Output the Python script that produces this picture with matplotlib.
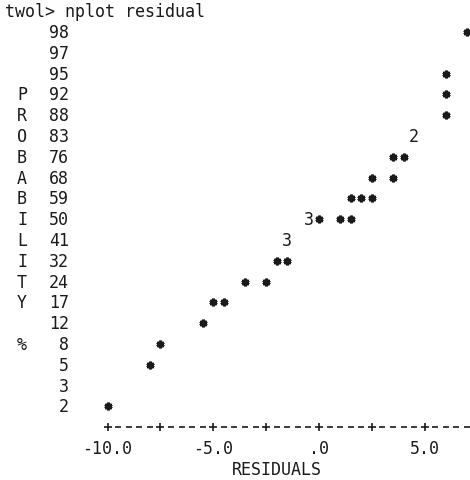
import numpy as np
import matplotlib
matplotlib.use("Agg")
import matplotlib.pyplot as plt

# ---- data -------------------------------------------------------------
title = "twol> nplot residual"
prob_labels = [98, 97, 95, 92, 88, 83, 76, 68, 59, 50, 41, 32, 24, 17, 12, 8, 5, 3, 2]
side_letters = {92: "P", 88: "R", 83: "O", 76: "B", 68: "A", 59: "B", 50: "I",
                41: "L", 32: "I", 24: "T", 17: "Y", 8: "%"}

# single observations ('*')
star_res = [7.0, 6.0, 6.0, 6.0, 3.5, 4.0, 2.5, 3.5, 1.5, 2.0, 2.5, 0.0, 1.0, 1.5,
            -2.0, -1.5, -3.5, -2.5, -5.0, -4.5, -5.5, -7.5, -8.0, -10.0]
star_prob = [98, 95, 92, 88, 76, 76, 68, 68, 59, 59, 59, 50, 50, 50,
             32, 32, 24, 24, 17, 17, 12, 8, 5, 2]
# coincident observations (count shown as digit)
multi_res = [4.5, -0.5, -1.5]
multi_prob = [83, 50, 41]
multi_count = ["2", "3", "3"]

tick_vals = [-10.0, -5.0, 0.0, 5.0]
tick_text = ["-10.0", "-5.0", ".0", "5.0"]
minor_ticks = [-10.0, -7.5, -5.0, -2.5, 0.0, 2.5, 5.0]
xlabel = "RESIDUALS"

# ---- layout -----------------------------------------------------------
W, H = 470, 480
PXU = 21.14      # pixels per residual unit
X0 = 319.0       # pixel of residual 0
Y0, DY = 32.0, 20.8  # pixel of first row, row spacing

fig = plt.figure(figsize=(W / 100, H / 100), dpi=100)
ax = fig.add_axes([0, 0, 1, 1])
ax.axis("off")
ax.set_xlim(-X0 / PXU, (W - X0) / PXU)
ax.set_ylim((H - Y0) / DY, -Y0 / DY)

row_of = {p: i for i, p in enumerate(prob_labels)}
INK = "#1a1a1a"
FONT = dict(family="DejaVu Sans Mono", fontsize=12.0, color=INK)
BL = 0.29  # baseline offset (rows) so glyphs are centred on the row

def px2x(px):
    return (px - X0) / PXU

# title
ax.text(px2x(5), -1 + BL, title, ha="left", va="baseline", **FONT)

# probability labels and vertical letters
for p in prob_labels:
    r = row_of[p]
    ax.text(px2x(69), r + BL, str(p), ha="right", va="baseline", **FONT)
    if p in side_letters:
        ax.text(px2x(22), r + BL, side_letters[p], ha="center", va="baseline", **FONT)

# points
ax.plot(star_res, [row_of[p] for p in star_prob], ls="none",
        marker=(6, 2, 0), ms=5.5, mew=2.0, color=INK)
for x, p, c in zip(multi_res, multi_prob, multi_count):
    ax.text(x, row_of[p] + BL, c, ha="center", va="baseline", **FONT)

# character-style x axis
axis_row = len(prob_labels)
step = 0.5
dash_x = [v for v in np.arange(minor_ticks[0], 8.0, step)
          if not any(abs(v - t) < 1e-9 for t in minor_ticks)]
ax.plot(dash_x, [axis_row] * len(dash_x), ls="none", marker="_", ms=4.6,
        mew=1.2, color=INK)
ax.plot(minor_ticks, [axis_row] * len(minor_ticks), ls="none", marker="+",
        ms=6.2, mew=1.2, color=INK)

for v, t in zip(tick_vals, tick_text):
    ax.text(v, axis_row + 1 + BL, t, ha="center", va="baseline", **FONT)

ax.text(-2.0, axis_row + 2 + BL, xlabel, ha="center", va="baseline", **FONT)

fig.savefig("out.png", dpi=100, facecolor="white")
